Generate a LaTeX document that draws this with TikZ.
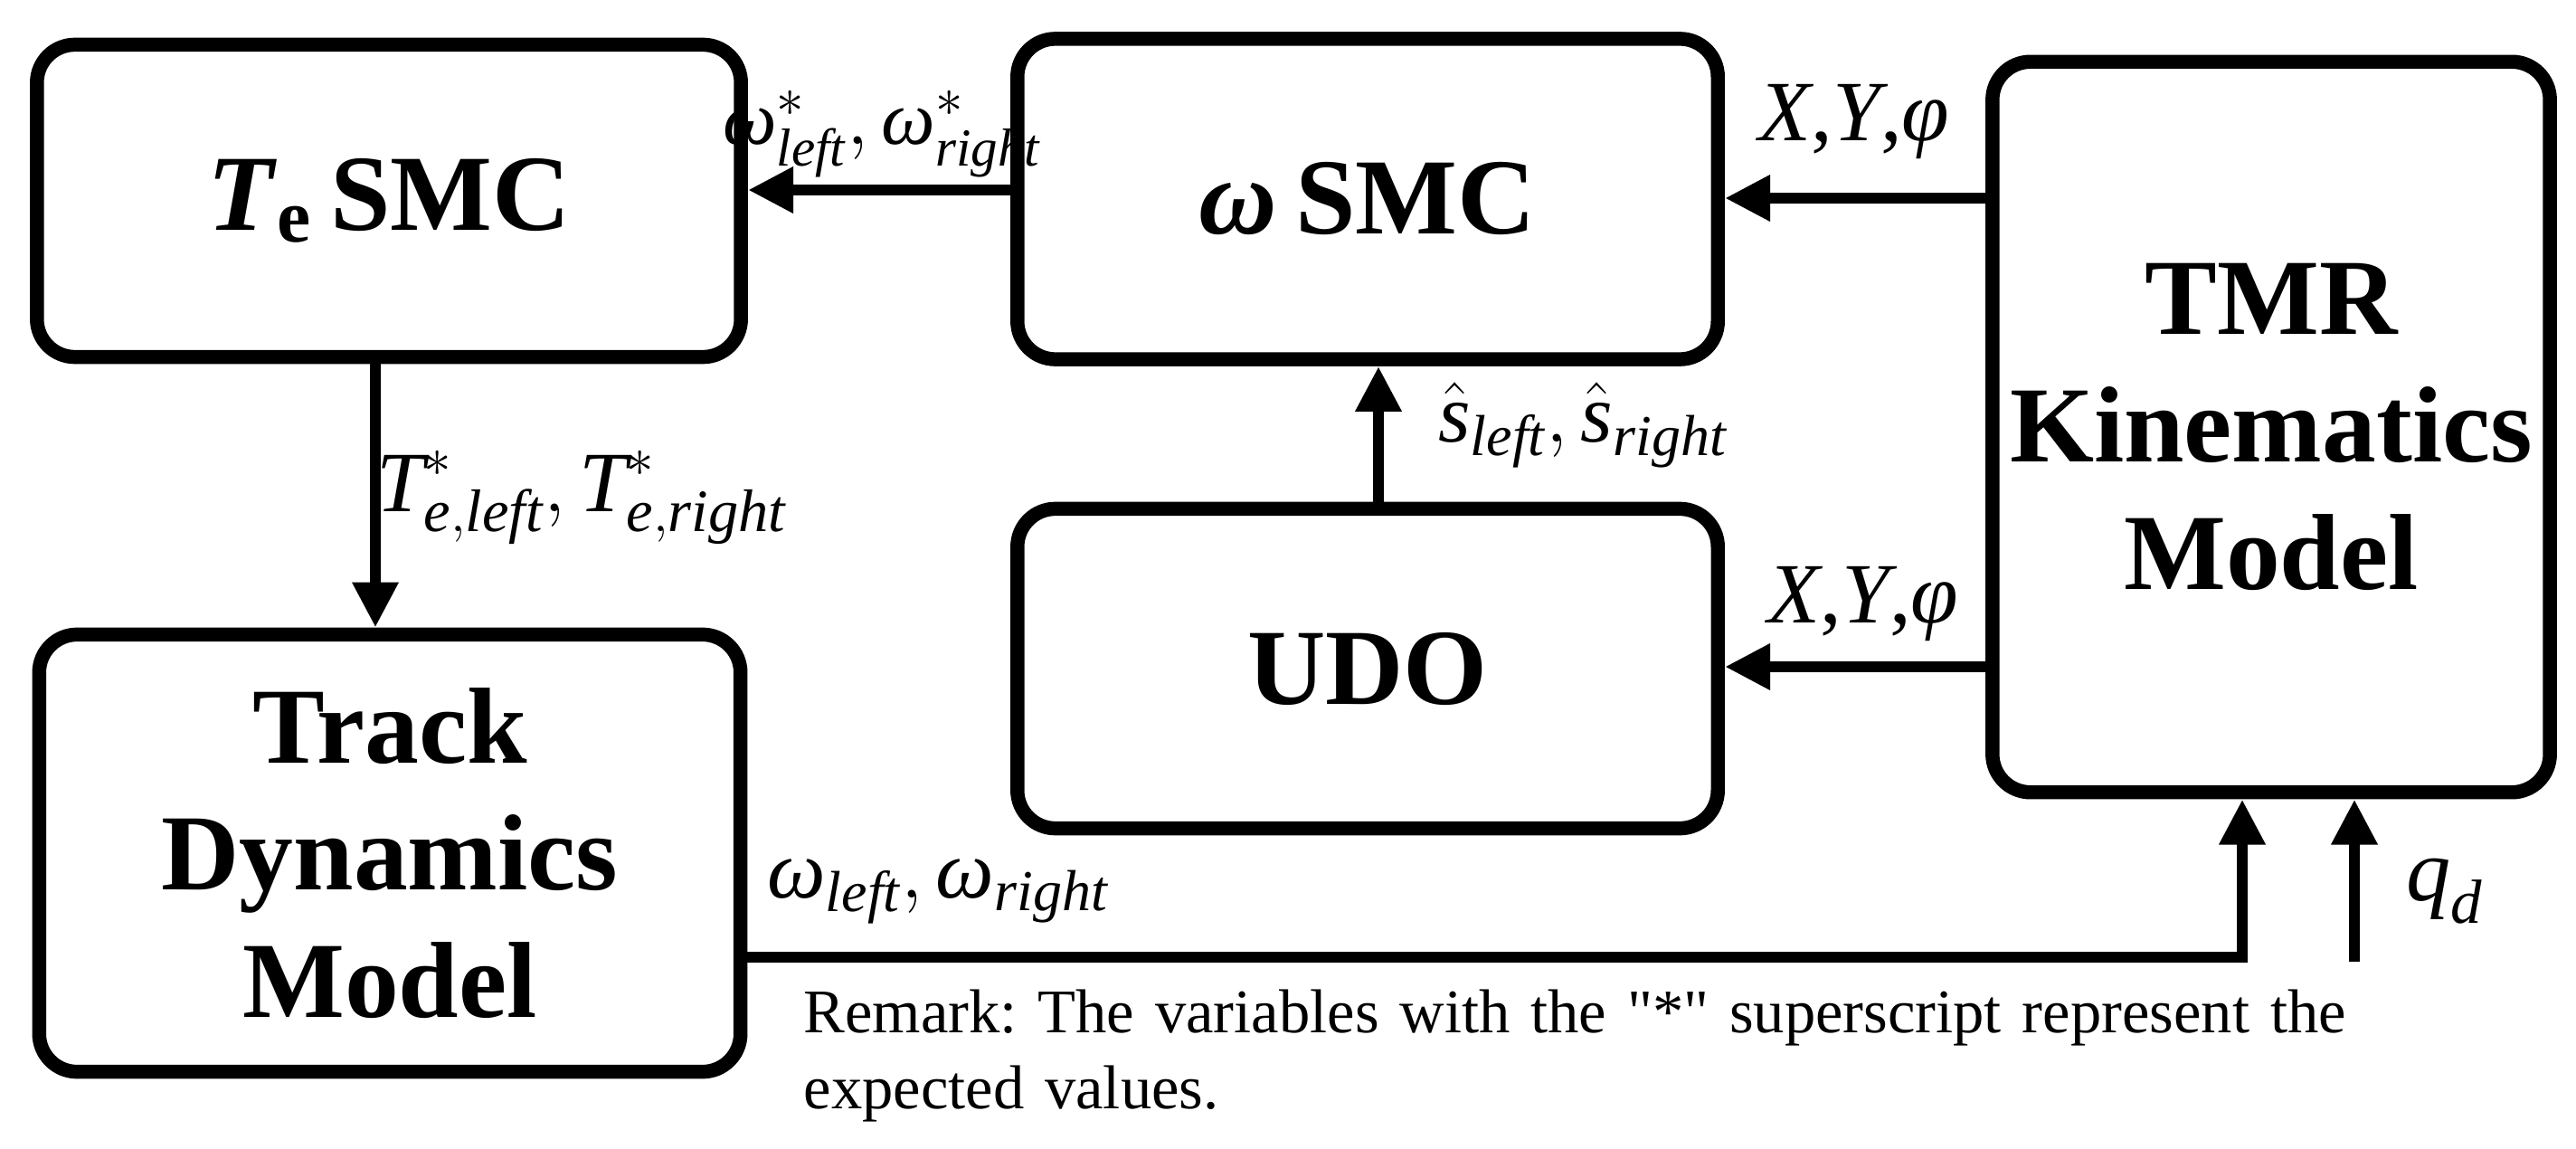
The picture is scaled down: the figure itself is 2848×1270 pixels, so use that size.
\documentclass[tikz,border=0pt]{standalone}
\usepackage{amsmath}
\usepackage{fontspec}
\setmainfont{Liberation Serif}
\usetikzlibrary{arrows.meta}
\newcommand\ti[1]{\text{\rmfamily\itshape #1}}
\newcommand\tw{\text{\rmfamily\itshape ω}}
\begin{document}
\frenchspacing
\begin{tikzpicture}[x=0.01cm,y=-0.01cm,
 box/.style={draw,line width=4.4pt,rounded corners=0.42cm,inner sep=0pt,font=\fontsize{34}{40}\selectfont\bfseries,align=center},
 arr/.style={line width=3.6pt,-{Triangle[length=0.5cm,width=0.48cm]}},
 lbl/.style={font=\fontsize{24}{28}\selectfont}]
\useasboundingbox (0,0) rectangle (2848,1270);
\node[box,minimum width=7.78cm,minimum height=3.45cm] (te) at (430,222) {\textit{T}\textsubscript{e}\,SMC};
\node[box,minimum width=7.74cm,minimum height=3.54cm] (ws) at (1512,220) {\textit{ω}\,SMC};
\node[box,minimum width=7.74cm,minimum height=3.53cm] (udo) at (1512,739) {UDO};
\node[box,minimum width=6.16cm,minimum height=8.07cm] (tmr) at (2511,472) {TMR\\Kinematics\\Model};
\node[box,minimum width=7.75cm,minimum height=4.83cm] (tdm) at (431,943) {Track\\Dynamics\\Model};
\draw[arr] (ws.west |- 0,210) -- (te.east |- 0,210);
\node[lbl] (l1) at (975,148) {$\tw^{*}_{\ti{left}}{,}\,\tw^{*}_{\ti{right}}$};
\draw[arr] (tmr.west |- 0,219) -- (ws.east |- 0,219);
\node[lbl,font=\fontsize{27}{30}\selectfont] (l2) at (2050,135) {\textit{X},\textit{Y},\textit{φ}};
\draw[arr] (tmr.west |- 0,737) -- (udo.east |- 0,737);
\node[lbl,font=\fontsize{27}{30}\selectfont] (l3) at (2060,668) {\textit{X},\textit{Y},\textit{φ}};
\draw[arr] (udo.north -| 1524,0) -- (ws.south -| 1524,0);
\node[lbl,font=\fontsize{26}{30}\selectfont] (l4) at (1750,470) {$\hat{\ti{s}}_{\ti{left}}{,}\,\hat{\ti{s}}_{\ti{right}}$};
\draw[arr] (te.south -| 415,0) -- (tdm.north -| 415,0);
\node[lbl,font=\fontsize{27}{30}\selectfont] (l5) at (643,550) {$\ti{T}^{*}_{\ti{e},\ti{left}}{,}\,\ti{T}^{*}_{\ti{e},\ti{right}}$};
\coordinate (c1) at (2479,1058);
\draw[arr] (tdm.east |- c1) -- (c1) -- (tmr.south -| c1);
\node[lbl,font=\fontsize{26}{30}\selectfont] (l6) at (1037,985) {$\tw_{\ti{left}}{,}\,\tw_{\ti{right}}$};
\coordinate (q) at (2603,1063);
\draw[arr] (q) -- (tmr.south -| q);
\node[lbl,font=\fontsize{28}{30}\selectfont] (l7) at (2703,985) {$\ti{q}_{\ti{d}}$};
\node[anchor=north west,align=left,font=\fontsize{19.5}{24}\selectfont,text width=17.6cm,inner sep=0pt] (rm) at (888,1093) {\raggedright\frenchspacing Remark: The variables with the \textquotedbl*\textquotedbl{} superscript represent the expected values.};
\end{tikzpicture}
\end{document}
